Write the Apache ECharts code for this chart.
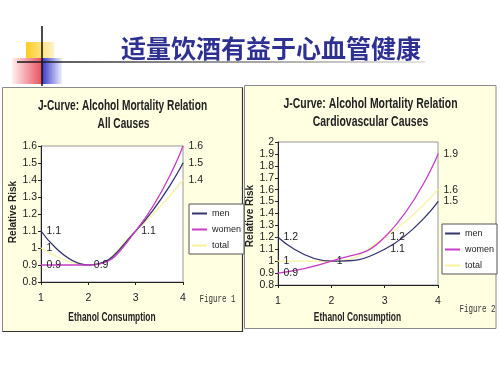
<!DOCTYPE html>
<html><head><meta charset="utf-8">
<script src="https://cdn.jsdelivr.net/npm/echarts@6/dist/echarts.min.js"></script>
<style>html,body{margin:0;padding:0;background:#fff}#c{width:500px;height:375px}</style>
</head><body><div id="c"></div>
<script>
const categories = ['1', '2', '3', '4'];
const seriesNames = ['men', 'women', 'total'];
const allMen = [1.1, 0.9, 1.1, 1.5];
const allWomen = [0.9, 0.9, 1.1, 1.6];
const allTotal = [1.0, 0.9, 1.1, 1.4];
const cvMen = [1.2, 1.0, 1.1, 1.5];
const cvWomen = [0.9, 1.0, 1.2, 1.9];
const cvTotal = [1.0, 1.0, 1.2, 1.6];
// which points carry a value label
const allMenLab = [0, 1, 3], allWomenLab = [0, 3], allTotalLab = [0, 2, 3];
const cvMenLab = [0, 1, 2, 3], cvWomenLab = [0, 2, 3], cvTotalLab = [0, 3];
const slideTitle = '适量饮酒有益于心血管健康';
const chartTitle = 'J-Curve: Alcohol Mortality Relation';
const sub1 = 'All Causes', sub2 = 'Cardiovascular Causes';

const SANS = "'Liberation Sans',Arial,sans-serif";
const C_MEN = '#34346e', C_WOMEN = '#c83cc8', C_TOTAL = '#f6f29a';

function mk(name, vals, lab, gi, color) {
  return {
    type: 'line', name, xAxisIndex: gi, yAxisIndex: gi, smooth: 0.5,
    symbol: 'circle', symbolSize: 1, itemStyle: { color },
    lineStyle: { color, width: 1.3 }, emphasis: { disabled: true },
    data: vals.map((v, i) => ({ value: v, label: { show: lab.includes(i) } })),
    label: { position: 'right', distance: 5, fontSize: 10.5, color: '#222', fontFamily: SANS },
    z: 3
  };
}
function yAx(gi, min, max) {
  return { type: 'value', gridIndex: gi, min, max, interval: 0.1,
    axisLine: { show: true, lineStyle: { color: '#222' } },
    axisTick: { show: true, length: 3, lineStyle: { color: '#222' } },
    splitLine: { show: false },
    axisLabel: { fontSize: 10.5, color: '#222', margin: 4, fontFamily: SANS,
      formatter: v => String(Math.round(v * 10) / 10) } };
}
function xAx(gi) {
  return { type: 'category', gridIndex: gi, data: categories, boundaryGap: false,
    axisLine: { lineStyle: { color: '#222' } },
    axisTick: { show: true, length: 3, lineStyle: { color: '#222' } },
    axisLabel: { fontSize: 10.5, color: '#222', margin: 11, fontFamily: SANS } };
}
function txt(x, y, text, font, opts) {
  return Object.assign({ type: 'text', x, y, z: 50,
    style: { text, font, fill: '#222', textAlign: 'center', textVerticalAlign: 'middle' } }, opts || {});
}
const legendBase = {
  orient: 'vertical', backgroundColor: '#fff', borderColor: '#555', borderWidth: 1,
  borderRadius: 0, padding: [5, 3, 4, 3], itemGap: 7, itemWidth: 15, itemHeight: 2,
  itemTextGap: 2, icon: 'rect', textStyle: { fontSize: 9, color: '#222', fontFamily: SANS },
  data: seriesNames, selectedMode: false
};

const chart = echarts.init(document.getElementById('c'), null, { renderer: 'canvas' });
chart.setOption({
  animation: false,
  backgroundColor: '#fff',
  graphic: [
    // slide decoration
    { type: 'rect', z: -5, shape: { x: 26, y: 42, width: 28, height: 16 },
      style: { fill: new echarts.graphic.LinearGradient(0, 0, 1, 0, [{ offset: 0, color: '#ffcc22' }, { offset: 1, color: '#fff3c8' }]) } },
    { type: 'rect', z: -5, shape: { x: 12, y: 58, width: 30, height: 26 },
      style: { fill: new echarts.graphic.LinearGradient(0, 0, 1, 0, [{ offset: 0, color: '#fff0f0' }, { offset: 1, color: '#e8505e' }]) } },
    { type: 'rect', z: -5, shape: { x: 42, y: 58, width: 20, height: 26 },
      style: { fill: new echarts.graphic.LinearGradient(0, 0, 1, 0, [{ offset: 0, color: '#3a3ac8' }, { offset: 1, color: '#eef' }]) } },
    { type: 'line', z: -4, shape: { x1: 42, y1: 26, x2: 42, y2: 86 }, style: { stroke: '#111', lineWidth: 1.5 } },
    { type: 'line', z: -4, shape: { x1: 17, y1: 62, x2: 425, y2: 62 },
      style: { lineWidth: 1.5, stroke: new echarts.graphic.LinearGradient(0, 0, 1, 0, [{ offset: 0, color: '#111' }, { offset: 0.5, color: '#777' }, { offset: 1, color: '#ddd' }]) } },
    { type: 'text', x: 271, y: 48, z: 50,
      style: { text: slideTitle, font: "bold 25px 'Noto Sans CJK SC'", fill: '#2f3192', textAlign: 'center', textVerticalAlign: 'middle' } },
    // panels
    { type: 'rect', z: -5, shape: { x: 2.5, y: 87.5, width: 240, height: 244 },
      style: { fill: '#ffffe1', stroke: '#8a8a8a', lineWidth: 1 } },
    { type: 'polyline', z: -4, shape: { points: [[242.5, 87.5], [242.5, 331.5], [2.5, 331.5]] }, style: { stroke: '#333', lineWidth: 1.2, fill: null } },
    { type: 'rect', z: -5, shape: { x: 244.5, y: 85.5, width: 251.5, height: 243 },
      style: { fill: '#ffffe1', stroke: '#8a8a8a', lineWidth: 1 } },
    // chart texts
    txt(122.5, 106, chartTitle, "bold 14.5px 'Liberation Sans',sans-serif", { scaleX: 0.7 }),
    txt(123.5, 123.5, sub1, "bold 14.5px 'Liberation Sans',sans-serif", { scaleX: 0.7 }),
    txt(370.5, 103.5, chartTitle, "bold 14.5px 'Liberation Sans',sans-serif", { scaleX: 0.72 }),
    txt(370.5, 121.5, sub2, "bold 14.5px 'Liberation Sans',sans-serif", { scaleX: 0.72 }),
    txt(112, 318, 'Ethanol Consumption', "bold 12px 'Liberation Sans',sans-serif", { scaleX: 0.7 }),
    txt(357.5, 318, 'Ethanol Consumption', "bold 12px 'Liberation Sans',sans-serif", { scaleX: 0.7 }),
    txt(13.5, 212, 'Relative Risk', "bold 10px 'Liberation Sans',sans-serif", { rotation: Math.PI / 2 }),
    txt(250, 216, 'Relative Risk', "bold 10px 'Liberation Sans',sans-serif", { rotation: Math.PI / 2 }),
    { type: 'text', x: 217.5, y: 299, z: 50, scaleX: 0.75,
      style: { text: 'Figure 1', font: "10px 'Liberation Mono',monospace", fill: '#333', textAlign: 'center', textVerticalAlign: 'middle' } },
    { type: 'text', x: 477.5, y: 309, z: 50, scaleX: 0.75,
      style: { text: 'Figure 2', font: "10px 'Liberation Mono',monospace", fill: '#333', textAlign: 'center', textVerticalAlign: 'middle' } }
  ],
  grid: [
    { left: 41, top: 146, width: 142, height: 136, show: true, backgroundColor: '#fff', borderColor: '#999', borderWidth: 1, containLabel: false },
    { left: 278, top: 142, width: 160, height: 143, show: true, backgroundColor: '#fff', borderColor: '#999', borderWidth: 1, containLabel: false }
  ],
  xAxis: [xAx(0), xAx(1)],
  yAxis: [yAx(0, 0.8, 1.6), yAx(1, 0.8, 2.0)],
  legend: [
    Object.assign({}, legendBase, { left: 189, top: 204 }),
    Object.assign({}, legendBase, { left: 442, top: 224 })
  ],
  series: [
    mk('total', allTotal, allTotalLab, 0, C_TOTAL),
    mk('men', allMen, allMenLab, 0, C_MEN),
    mk('women', allWomen, allWomenLab, 0, C_WOMEN),
    mk('total', cvTotal, cvTotalLab, 1, C_TOTAL),
    mk('men', cvMen, cvMenLab, 1, C_MEN),
    mk('women', cvWomen, cvWomenLab, 1, C_WOMEN)
  ]
});
</script></body></html>
